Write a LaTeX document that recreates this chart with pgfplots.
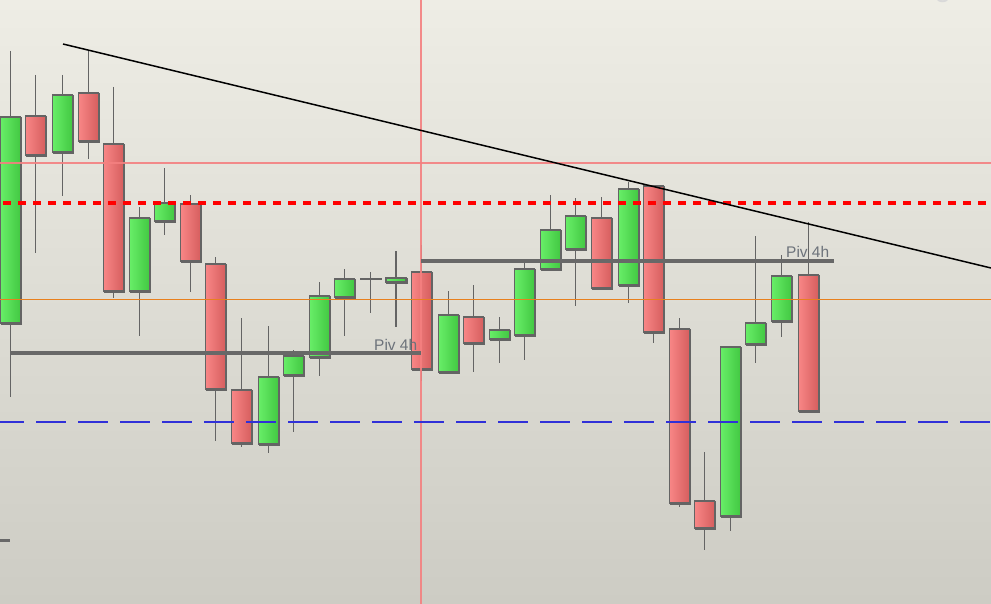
\documentclass[border=0pt]{standalone}
\usepackage{pgfplots}
\pgfplotsset{compat=1.18}
\usepackage{fontspec}
\setmainfont{Liberation Sans}
\definecolor{bgtop}{RGB}{238,237,229}
\definecolor{bgbot}{RGB}{205,204,196}
\definecolor{gL}{RGB}{104,238,104}
\definecolor{gR}{RGB}{66,200,66}
\definecolor{rL}{RGB}{248,134,134}
\definecolor{rR}{RGB}{214,94,94}
\definecolor{edge}{RGB}{100,100,100}
\definecolor{piv}{RGB}{104,104,104}
\definecolor{salmon}{RGB}{244,128,128}
\definecolor{orng}{RGB}{232,128,30}
\definecolor{bluedash}{RGB}{48,48,216}
\definecolor{pivtext}{RGB}{108,114,122}
\begin{document}
\begin{tikzpicture}
\begin{axis}[
  width=991bp, height=604bp, scale only axis,
  xmin=0, xmax=991, ymin=0, ymax=604, y dir=reverse,
  axis line style={draw=none}, ticks=none,
  axis background/.style={top color=bgtop, bottom color=bgbot},
  gc/.style={draw=edge, line width=1.3bp, left color=gL, right color=gR,
    preaction={fill=edge, transform canvas={xshift=1bp, yshift=-1bp}}},
  rc/.style={draw=edge, line width=1.3bp, left color=rL, right color=rR,
    preaction={fill=edge, transform canvas={xshift=1bp, yshift=-1bp}}},
]
% wicks (x, high) (x, low)
\addplot[draw=edge, line width=1.2bp, unbounded coords=jump] coordinates {
(10.5,51)(10.5,397)(10.5,nan)
(35.5,75)(35.5,253)(35.5,nan)
(62.5,75)(62.5,196)(62.5,nan)
(88.5,51)(88.5,159)(88.5,nan)
(113.5,87)(113.5,298)(113.5,nan)
(139.5,207)(139.5,336)(139.5,nan)
(164.5,168)(164.5,235)(164.5,nan)
(190.5,195)(190.5,292)(190.5,nan)
(215.5,257)(215.5,441)(215.5,nan)
(241.5,318)(241.5,447)(241.5,nan)
(268.5,326)(268.5,453)(268.5,nan)
(293.5,350)(293.5,432)(293.5,nan)
(319.5,282)(319.5,376)(319.5,nan)
(344.5,269)(344.5,336)(344.5,nan)
(370.5,272)(370.5,313)(370.5,nan)
(396,251)(396,327)(396,nan)
(421.5,245)(421.5,381)(421.5,nan)
(448.5,291)(448.5,372)(448.5,nan)
(473.5,285)(473.5,372)(473.5,nan)
(499.5,317)(499.5,363)(499.5,nan)
(524.5,262)(524.5,360)(524.5,nan)
(550.5,195)(550.5,269)(550.5,nan)
(575.5,198)(575.5,306)(575.5,nan)
(601.5,197)(601.5,288)(601.5,nan)
(628.5,182)(628.5,303)(628.5,nan)
(653.5,186)(653.5,343)(653.5,nan)
(679.5,318)(679.5,507)(679.5,nan)
(704.5,452)(704.5,550)(704.5,nan)
(730.5,347)(730.5,531)(730.5,nan)
(755.5,236)(755.5,363)(755.5,nan)
(781.5,255)(781.5,337)(781.5,nan)
(808.5,222)(808.5,411)
};
% doji
\addplot[draw=edge, line width=2bp] coordinates {(360,279)(382,279)};
% bodies
\addplot[gc] coordinates {(0.5,117)(20.5,117)(20.5,323)(0.5,323)} -- cycle;
\addplot[rc] coordinates {(25.5,116)(45.5,116)(45.5,155)(25.5,155)} -- cycle;
\addplot[gc] coordinates {(52.5,95)(72.5,95)(72.5,152)(52.5,152)} -- cycle;
\addplot[rc] coordinates {(78.5,93)(98.5,93)(98.5,141)(78.5,141)} -- cycle;
\addplot[rc] coordinates {(103.5,144)(123.5,144)(123.5,291)(103.5,291)} -- cycle;
\addplot[gc] coordinates {(129.5,218)(149.5,218)(149.5,291)(129.5,291)} -- cycle;
\addplot[gc] coordinates {(154.5,203)(174.5,203)(174.5,221)(154.5,221)} -- cycle;
\addplot[rc] coordinates {(180.5,204)(200.5,204)(200.5,261)(180.5,261)} -- cycle;
\addplot[rc] coordinates {(205.5,264)(225.5,264)(225.5,389)(205.5,389)} -- cycle;
\addplot[rc] coordinates {(231.5,390)(251.5,390)(251.5,443)(231.5,443)} -- cycle;
\addplot[gc] coordinates {(258.5,377)(278.5,377)(278.5,444)(258.5,444)} -- cycle;
\addplot[gc] coordinates {(283.5,356)(303.5,356)(303.5,375)(283.5,375)} -- cycle;
\addplot[gc] coordinates {(309.5,296)(329.5,296)(329.5,357)(309.5,357)} -- cycle;
\addplot[gc] coordinates {(334.5,279)(354.5,279)(354.5,297)(334.5,297)} -- cycle;
\addplot[gc] coordinates {(386,278)(406,278)(406,282)(386,282)} -- cycle;
\addplot[rc] coordinates {(411.5,272)(431.5,272)(431.5,369)(411.5,369)} -- cycle;
\addplot[gc] coordinates {(438.5,315)(458.5,315)(458.5,372)(438.5,372)} -- cycle;
\addplot[rc] coordinates {(463.5,317)(483.5,317)(483.5,343)(463.5,343)} -- cycle;
\addplot[gc] coordinates {(489.5,330)(509.5,330)(509.5,339)(489.5,339)} -- cycle;
\addplot[gc] coordinates {(514.5,269)(534.5,269)(534.5,335)(514.5,335)} -- cycle;
\addplot[gc] coordinates {(540.5,230)(560.5,230)(560.5,269)(540.5,269)} -- cycle;
\addplot[gc] coordinates {(565.5,216)(585.5,216)(585.5,249)(565.5,249)} -- cycle;
\addplot[rc] coordinates {(591.5,218)(611.5,218)(611.5,288)(591.5,288)} -- cycle;
\addplot[gc] coordinates {(618.5,189)(638.5,189)(638.5,285)(618.5,285)} -- cycle;
\addplot[rc] coordinates {(643.5,186)(663.5,186)(663.5,332)(643.5,332)} -- cycle;
\addplot[rc] coordinates {(669.5,329)(689.5,329)(689.5,503)(669.5,503)} -- cycle;
\addplot[rc] coordinates {(694.5,501)(714.5,501)(714.5,528)(694.5,528)} -- cycle;
\addplot[gc] coordinates {(720.5,347)(740.5,347)(740.5,516)(720.5,516)} -- cycle;
\addplot[gc] coordinates {(745.5,323)(765.5,323)(765.5,344)(745.5,344)} -- cycle;
\addplot[gc] coordinates {(771.5,276)(791.5,276)(791.5,321)(771.5,321)} -- cycle;
\addplot[rc] coordinates {(798.5,275)(818.5,275)(818.5,411)(798.5,411)} -- cycle;
% horizontal / vertical guide lines
\addplot[draw=salmon, opacity=0.9, line width=2bp] coordinates {(0,162.5)(991,162.5)};
\addplot[draw=salmon, opacity=0.9, line width=2.2bp] coordinates {(421,0)(421,604)};
\addplot[draw=orng, line width=1bp] coordinates {(0,299)(991,299)};
\addplot[draw=red, line width=3.5bp, dash pattern=on 8bp off 7bp] coordinates {(3,203)(991,203)};
\addplot[draw=bluedash, line width=2.2bp, dash pattern=on 30bp off 12bp, dash phase=6bp] coordinates {(0,422)(991,422)};
% pivot lines
\addplot[draw=piv, line width=3.5bp] coordinates {(10,353)(421,353)};
\addplot[draw=piv, line width=3.5bp] coordinates {(421,261)(834,261)};
\addplot[draw=piv, line width=3bp] coordinates {(0,540)(10,540)};
% trend line
\addplot[draw=black, line width=1.5bp] coordinates {(63,44)(991,268)};
% labels
\node[anchor=base west, inner sep=0pt, text=pivtext, font=\fontsize{15.5}{17}\selectfont] at (axis cs:374,350) {Piv 4h};
\node[anchor=base west, inner sep=0pt, text=pivtext, font=\fontsize{15.5}{17}\selectfont] at (axis cs:786,257) {Piv 4h};
\node[overlay, anchor=base, inner sep=0pt, text=gray!30, font=\fontsize{30}{32}\selectfont] at (axis cs:943,-3) {g};
\end{axis}
\end{tikzpicture}
\end{document}
